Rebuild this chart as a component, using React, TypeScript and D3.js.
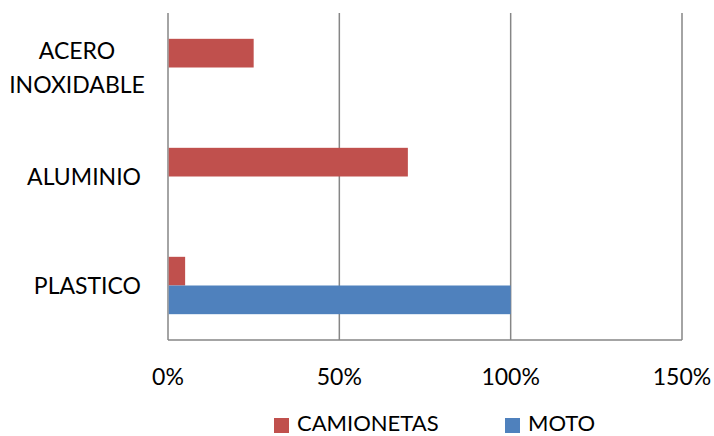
import React from "react";
import * as d3 from "d3";

const categories = ["ACERO INOXIDABLE", "ALUMINIO", "PLASTICO"];
const seriesNames = ["CAMIONETAS", "MOTO"];
const camionetas = [0.25, 0.7, 0.05];
const moto = [0, 0, 1.0];
const xTicks = [0, 0.5, 1.0, 1.5];
const colors = ["#C0504D", "#4F81BD"];

const W = 714;
const H = 436;
const FONT = "Lato, 'Open Sans', sans-serif";
const FS = 23;

export default function App() {
  const x = d3.scaleLinear().domain([0, 1.5]).range([168, 682]);
  const y = d3.scaleBand().domain(categories).range([13, 340]).padding(0);
  const inner = d3
    .scaleBand()
    .domain(seriesNames)
    .range([0, y.bandwidth()])
    .paddingInner(0)
    .paddingOuter(0.9);
  const seriesVals = [camionetas, moto];
  const fmt = d3.format(".0%");
  const [top, bottom] = y.range();

  return (
    <div style={{ position: "absolute", left: 0, top: 0 }}>
      <svg width={W} height={H} style={{ display: "block", background: "#fff" }}>
        {xTicks.map((t) => (
          <line key={"g" + t} x1={x(t)} x2={x(t)} y1={top} y2={bottom} stroke="#868686" strokeWidth={1.5} />
        ))}
        <line x1={x(0)} x2={x(1.5)} y1={bottom} y2={bottom} stroke="#868686" strokeWidth={1.5} />
        {categories.map((c, i) =>
          seriesNames.map((s, j) => {
            const v = seriesVals[j][i];
            if (!v) return null;
            return (
              <rect
                key={c + s}
                x={x(0) + 0.75}
                y={(y(c) as number) + (inner(s) as number)}
                width={x(v) - x(0) - 0.75}
                height={inner.bandwidth()}
                fill={colors[j]}
              />
            );
          })
        )}
        {xTicks.map((t) => (
          <text key={"t" + t} x={x(t)} y={385} textAnchor="middle" fontFamily={FONT} fontSize={FS} fill="#000">
            {fmt(t)}
          </text>
        ))}
        {categories.map((c) => {
          const cy = (y(c) as number) + y.bandwidth() / 2;
          const words = c.split(" ");
          const lh = 34;
          if (words.length > 1) {
            return (
              <g key={c}>
                {words.map((w, k) => (
                  <text
                    key={w}
                    x={77}
                    y={cy + (k - (words.length - 1) / 2) * lh + 8}
                    textAnchor="middle"
                    fontFamily={FONT}
                    fontSize={FS}
                    fill="#000"
                  >
                    {w}
                  </text>
                ))}
              </g>
            );
          }
          return (
            <text key={c} x={141} y={cy + 8} textAnchor="end" fontFamily={FONT} fontSize={FS} fill="#000">
              {c}
            </text>
          );
        })}
        {seriesNames.map((s, j) => {
          const lx = [274, 505][j];
          return (
            <g key={s}>
              <rect x={lx} y={418} width={15} height={15} fill={colors[j]} />
              <text x={lx + 23} y={431} fontFamily={FONT} fontSize={22} fill="#000">
                {s}
              </text>
            </g>
          );
        })}
      </svg>
    </div>
  );
}
